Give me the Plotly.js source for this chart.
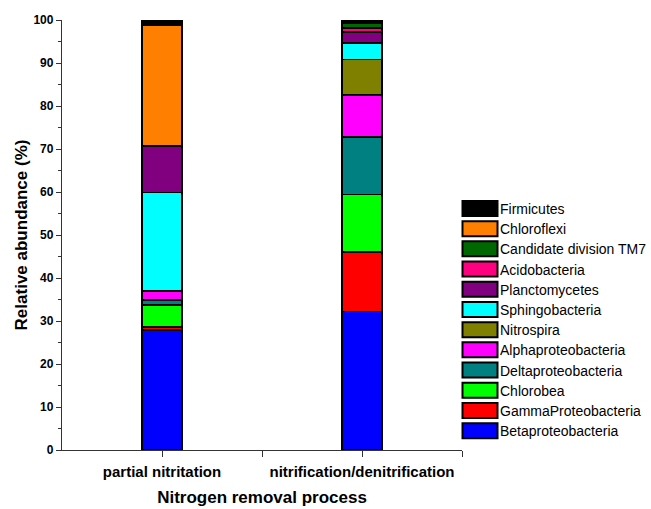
<!DOCTYPE html>
<html>
<head>
<meta charset="utf-8">
<script src="https://cdn.plot.ly/plotly-3.0.1.min.js"></script>
<style>
  html, body { margin: 0; padding: 0; background: #ffffff; }
  #chart { width: 651px; height: 509px; }
</style>
</head>
<body>
<div id="chart"></div>
<script>
// Categories (x) and their positions on the numeric axis
const processes = ['partial nitritation', 'nitrification/denitrification'];
const processPos = [1, 2];

// Series, bottom of stack first
const taxa = [
  'Betaproteobacteria', 'GammaProteobacteria', 'Chlorobea', 'Deltaproteobacteria',
  'Alphaproteobacteria', 'Nitrospira', 'Sphingobacteria', 'Planctomycetes',
  'Acidobacteria', 'Candidate division TM7', 'Chloroflexi', 'Firmicutes'
];

const betaproteobacteria   = [27.9, 32.2];
const gammaproteobacteria  = [0.7, 13.8];
const chlorobea            = [5.1, 13.4];
const deltaproteobacteria  = [1.2, 13.3];
const alphaproteobacteria  = [2.1, 9.9];
const nitrospira           = [0.0, 8.2];
const sphingobacteria      = [22.9, 3.8];
const planctomycetes       = [10.8, 2.6];
const acidobacteria        = [0.0, 1.0];
const candidateTM7         = [0.0, 1.1];
const chloroflexi          = [28.0, 0.0];
const firmicutes           = [1.3, 0.7];

const seriesValues = [
  betaproteobacteria, gammaproteobacteria, chlorobea, deltaproteobacteria,
  alphaproteobacteria, nitrospira, sphingobacteria, planctomycetes,
  acidobacteria, candidateTM7, chloroflexi, firmicutes
];

const colors = [
  '#0000FF', '#FF0000', '#00FF00', '#008080',
  '#FF00FF', '#808000', '#00FFFF', '#800080',
  '#FF0080', '#006800', '#FF8000', '#000000'
];

const yTicks = [0, 10, 20, 30, 40, 50, 60, 70, 80, 90, 100];

const FONT = 'Arial, "Liberation Sans", sans-serif';

const traces = taxa.map((name, i) => ({
  type: 'bar',
  name: name,
  x: processPos,
  y: seriesValues[i],
  width: 0.2,
  marker: { color: colors[i], line: { color: '#000000', width: 1.8 } },
  hoverinfo: 'name+y'
}));

const layout = {
  width: 651,
  height: 509,
  barmode: 'stack',
  paper_bgcolor: '#ffffff',
  plot_bgcolor: '#ffffff',
  margin: { l: 62, r: 189, t: 20, b: 59, autoexpand: false },
  font: { family: FONT, color: '#000000' },
  showlegend: true,
  legend: {
    x: 0.995, xanchor: 'left',
    y: 0.598, yanchor: 'top',
    traceorder: 'reversed',
    font: { family: FONT, size: 14, color: '#000000' },
    bgcolor: 'rgba(0,0,0,0)',
    borderwidth: 0
  },
  xaxis: {
    range: [0.5, 2.5],
    tickvals: [1, 1.5, 2, 2.5],
    ticktext: [processes[0], '', processes[1], ''],
    ticks: 'outside',
    ticklen: 6,
    tickwidth: 1.3,
    tickcolor: '#333333',
    ticklabelstandoff: 2,
    showline: true,
    linecolor: '#333333',
    linewidth: 1.3,
    showgrid: false,
    zeroline: false,
    tickfont: { family: FONT, size: 15, color: '#000000', weight: 'bold' },
    title: {
      text: '<b>Nitrogen removal process</b>',
      font: { family: FONT, size: 17, color: '#000000' },
      standoff: 11
    }
  },
  yaxis: {
    range: [0, 100],
    tickvals: yTicks,
    ticks: 'outside',
    ticklen: 5,
    tickwidth: 1.3,
    tickcolor: '#333333',
    minor: { dtick: 5, ticks: 'outside', ticklen: 3, tickwidth: 1.3, tickcolor: '#333333' },
    showline: true,
    linecolor: '#333333',
    linewidth: 1.3,
    showgrid: false,
    zeroline: false,
    tickfont: { family: FONT, size: 12, color: '#000000', weight: 'bold' },
    title: {
      text: '<b>Relative abundance (%)</b>',
      font: { family: FONT, size: 17, color: '#000000' },
      standoff: 1
    }
  }
};

function styleLegend(gd) {
  // Wider legend swatches, like the original figure
  gd.querySelectorAll('.legend .legendpoints path').forEach(function (p) {
    p.setAttribute('d', 'M17.5,7.5H-17.5V-7.5H17.5Z');
    p.style.strokeWidth = '2px';
    p.style.stroke = '#000000';
  });
  // Slightly tighter row spacing
  const items = Array.from(gd.querySelectorAll('.legend g.traces'));
  const parsed = items.map(function (g) {
    const m = /translate\(\s*([-\d.e]+)[ ,]+([-\d.e]+)\s*\)/.exec(g.getAttribute('transform') || '');
    return { g: g, x: m ? parseFloat(m[1]) : 0, y: m ? parseFloat(m[2]) : 0 };
  }).sort(function (a, b) { return a.y - b.y; });
  if (!parsed.length) return;
  const y0 = parsed[0].y;
  parsed.forEach(function (it, i) {
    it.g.setAttribute('transform', 'translate(' + it.x + ',' + (y0 + i * 20.2) + ')');
  });
}

Plotly.newPlot('chart', traces, layout, { displayModeBar: false }).then(function (gd) {
  styleLegend(gd);
  gd.on('plotly_afterplot', function () { styleLegend(gd); });
  setTimeout(function () { styleLegend(gd); }, 50);
});
</script>
</body>
</html>
